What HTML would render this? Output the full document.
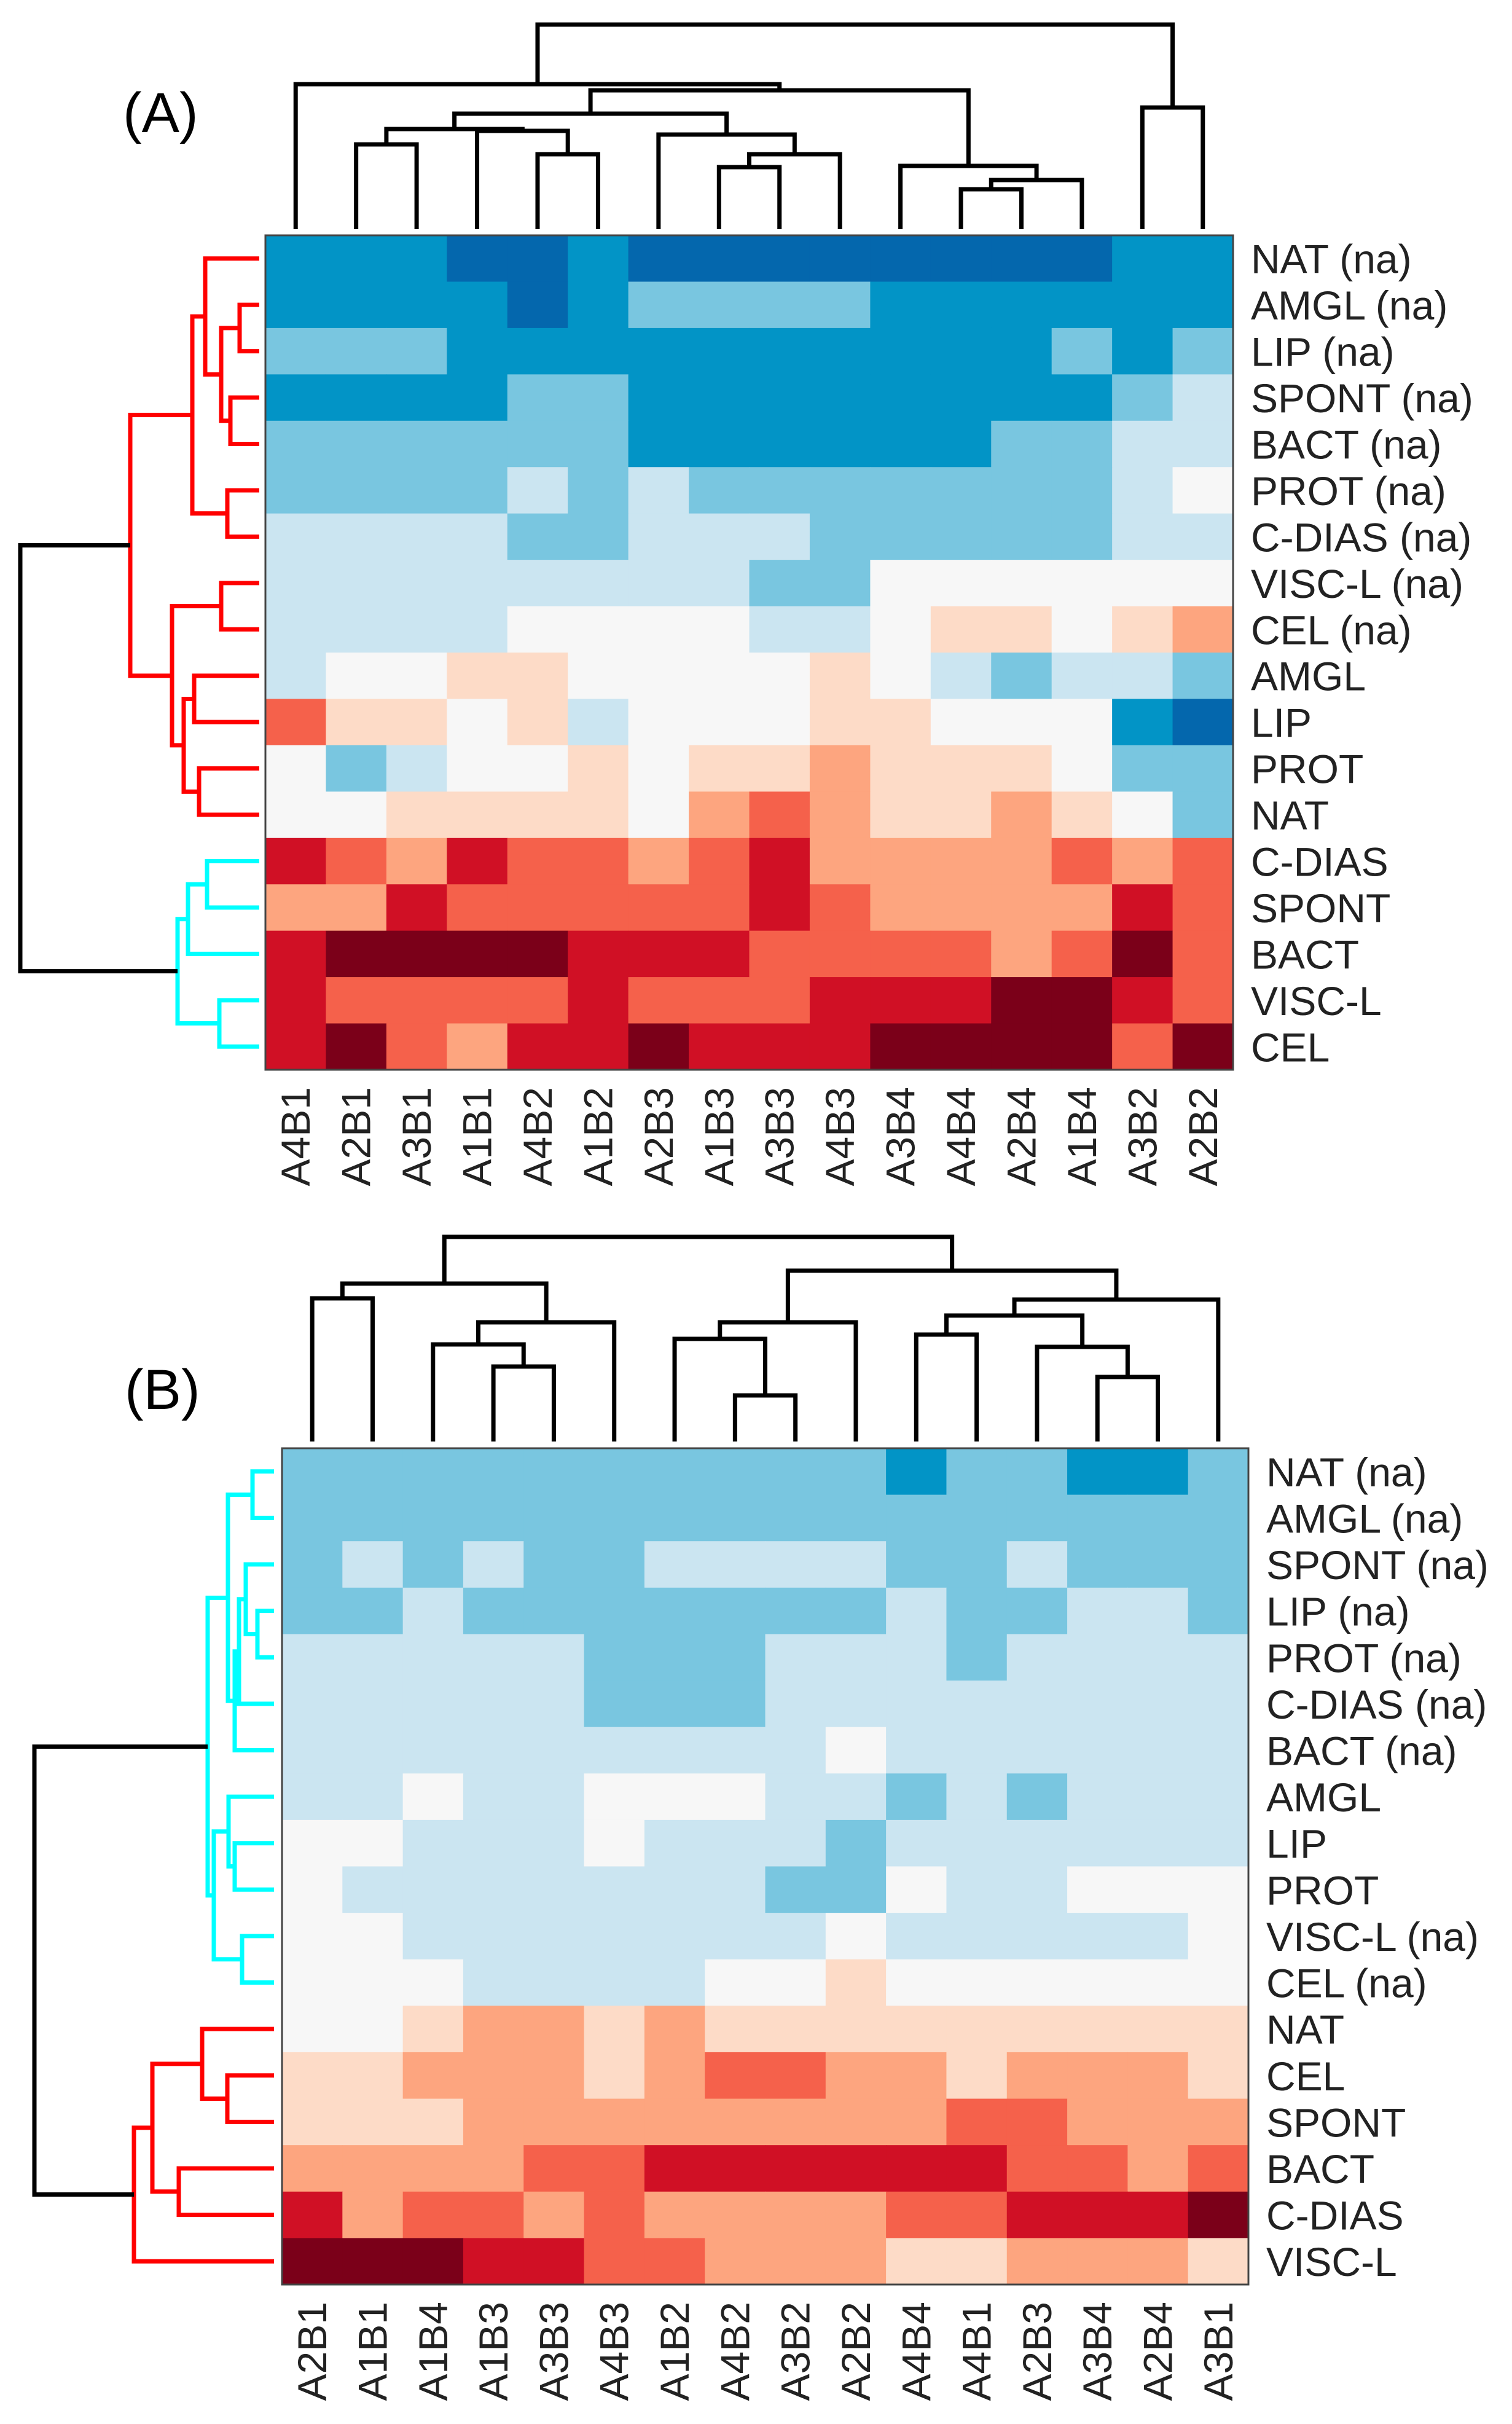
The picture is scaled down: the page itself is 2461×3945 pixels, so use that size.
<!DOCTYPE html>
<html><head><meta charset="utf-8"><style>
html,body{margin:0;padding:0;background:#fff;}
svg{display:block;}
text{font-family:"Liberation Sans",Arial,sans-serif;fill:#222;}
</style></head>
<body>
<svg id="fig" width="2461" height="3945" viewBox="0 0 2461 3945" xmlns="http://www.w3.org/2000/svg"></svg>
<script>
// ---------- DATA ----------
const levelColors = {a:'#0467ad',b:'#0294c6',c:'#79c6e0',d:'#cbe5f1',e:'#f7f7f7',f:'#fddbc7',g:'#fda57f',h:'#f5614b',i:'#d01025',j:'#7b0019'};

const colsA = ['A4B1','A2B1','A3B1','A1B1','A4B2','A1B2','A2B3','A1B3','A3B3','A4B3','A3B4','A4B4','A2B4','A1B4','A3B2','A2B2'];
const rowsA = ['NAT (na)','AMGL (na)','LIP (na)','SPONT (na)','BACT (na)','PROT (na)','C-DIAS (na)','VISC-L (na)','CEL (na)','AMGL','LIP','PROT','NAT','C-DIAS','SPONT','BACT','VISC-L','CEL'];
const cellsA = [
'bbbaabaaaaaaaabb',
'bbbbabccccbbbbbb',
'cccbbbbbbbbbbcbc',
'bbbbccbbbbbbbbcd',
'ccccccbbbbbbccdd',
'ccccdcdcccccccde',
'ddddccdddcccccdd',
'ddddddddcceeeeee',
'ddddeeeeddeffefg',
'deeffeeeefedcddc',
'hffefdeeeffeeeba',
'ecdeefeffgfffecc',
'eeffffeghgffgfec',
'ihgihhghigggghgh',
'ggihhhhhihggggih',
'ijjjjiiihhhhghjh',
'ihhhhihhhiiijjih',
'ijhgiijiiijjjjhj'
];
const dendTopA = [[1,2,138],[4,5,122],[3,17,160],[16,18,163],[7,8,101],[20,9,122],[6,21,154],[19,22,188],[11,12,65],[24,13,80],[10,25,103],[23,26,226],[0,27,236],[14,15,198],[28,29,333]];
const dendLeftA = [[1,2,32],[3,4,47],[18,19,62],[0,20,88],[5,6,52],[21,22,109],[7,8,62],[9,10,106],[11,12,98],[25,26,123],[24,27,142],[23,28,210],[13,14,85],[30,15,116],[16,17,65],[31,32,133],[29,33,389]];
const leftClusterA = [0,0,0,0,0,0,0,0,0,0,0,0,0,1,1,1,1,1];

const colsB = ['A2B1','A1B1','A1B4','A1B3','A3B3','A4B3','A1B2','A4B2','A3B2','A2B2','A4B4','A4B1','A2B3','A3B4','A2B4','A3B1'];
const rowsB = ['NAT (na)','AMGL (na)','SPONT (na)','LIP (na)','PROT (na)','C-DIAS (na)','BACT (na)','AMGL','LIP','PROT','VISC-L (na)','CEL (na)','NAT','CEL','SPONT','BACT','C-DIAS','VISC-L'];
const cellsB = [
'ccccccccccbccbbc',
'cccccccccccccccc',
'cdcdccddddccdccc',
'ccdcccccccdccddc',
'dddddcccdddcdddd',
'dddddcccdddddddd',
'dddddddddedddddd',
'ddeddeeeddcdcddd',
'eedddedddcdddddd',
'edddddddcceddeee',
'eedddddddeddddde',
'eeeddddeefeeeeee',
'eefggfgfffffffff',
'ffgggfghhggfgggf',
'fffgggggggghhggg',
'gggghhiiiiiihhgh',
'ighhghgggghhiiij',
'jjjiihhgggffgggf'
];
const dendTopB = [[0,1,233],[3,4,122],[2,17,158],[18,5,194],[16,19,257],[7,8,75],[6,21,167],[22,9,194],[10,11,174],[13,14,105],[12,25,154],[24,26,205],[27,15,231],[23,28,278],[20,29,333]];
const dendLeftB = [[0,1,35],[3,4,27],[2,19,46],[20,5,57],[21,6,64],[18,22,75],[8,9,64],[7,24,74],[10,11,52],[25,26,98],[23,27,108],[13,14,76],[12,29,117],[15,16,155],[30,31,198],[32,17,228],[28,33,390]];
const leftClusterB = [1,1,1,1,1,1,1,1,1,1,1,1,0,0,0,0,0,0];

// ---------- DRAW ----------
const NS='http://www.w3.org/2000/svg';
const svg=document.getElementById('fig');
function mk(tag,attrs,parent){const e=document.createElementNS(NS,tag);for(const k in attrs)e.setAttribute(k,attrs[k]);(parent||svg).appendChild(e);return e;}

function drawPanel(p){
  const g=mk('g',{});
  
  
  const nC=p.cols.length,nR=p.rows.length;
  const cw=(p.x1-p.x0)/nC, ch=(p.y1-p.y0)/nR;
  const xCol=i=>p.x0+cw*(i+0.5), yRow=i=>p.y0+ch*(i+0.5);
  const hm=mk('g',{},g);
  
  
  for(let r=0;r<nR;r++)for(let c=0;c<nC;c++){
    const rect=mk('rect',{x:(p.x0+cw*c).toFixed(2),y:(p.y0+ch*r).toFixed(2),width:(cw+0.6).toFixed(2),height:(ch+0.6).toFixed(2),fill:levelColors[p.cells[r][c]]},hm);
    
    
  }
  const border=mk('rect',{x:p.x0,y:p.y0,width:p.x1-p.x0,height:p.y1-p.y0,fill:'none',stroke:'#444',"stroke-width":3},g);
  
  
  p.rows.forEach((t,i)=>{
    const tx=mk('text',{x:p.x1+29,y:yRow(i)+24,'font-size':66},g);tx.textContent=t;
    
    
  });
  p.cols.forEach((t,i)=>{
    const X=xCol(i)+23,Y=p.y1+28;
    const tx=mk('text',{x:X,y:Y,'font-size':66,'text-anchor':'end',transform:`rotate(-90 ${X} ${Y})`},g);tx.textContent=t;
    
    
  });
  const posT=[],hT=[];
  for(let i=0;i<nC;i++){posT.push(xCol(i));hT.push(0);}
  p.dTop.forEach(m=>{
    const [a,b,h]=m;
    const yb=p.topBase;
    const d=`M${posT[a]},${yb-hT[a]} V${yb-h} H${posT[b]} V${yb-hT[b]}`;
    const path=mk('path',{d:d,fill:'none',stroke:'#000','stroke-width':7},g);
    
    
    posT.push((posT[a]+posT[b])/2);hT.push(h);
  });
  const posL=[],hL=[],cl=[];
  for(let i=0;i<nR;i++){posL.push(yRow(i));hL.push(0);cl.push(p.cluster[i]);}
  const n0=p.dLeft.length-1;
  p.dLeft.forEach((m,k)=>{
    const [a,b,h]=m;
    const xb=p.leftBase;
    let col;
    if(k===n0) col='#000'; else col=(cl[a]===1?p.c1:p.c0);
    const d=`M${xb-hL[a]},${posL[a]} H${xb-h} V${posL[b]} H${xb-hL[b]}`;
    const path=mk('path',{d:d,fill:'none',stroke:col,'stroke-width':7},g);
    
    
    posL.push((posL[a]+posL[b])/2);hL.push(h);cl.push(cl[a]);
  });
  const tg=mk('text',{x:p.tagX,y:p.tagY,'font-size':92,style:'fill:#000'},g);tg.textContent=p.tag;
  
  
}

drawPanel({name:'panel-a',cols:colsA,rows:rowsA,cells:cellsA,dTop:dendTopA,dLeft:dendLeftA,cluster:leftClusterA,
  x0:432,x1:2007,y0:383,y1:1741,topBase:373,leftBase:422,c0:'#ff0000',c1:'#00ffff',tag:'(A)',tagX:200,tagY:215});
drawPanel({name:'panel-b',cols:colsB,rows:rowsB,cells:cellsB,dTop:dendTopB,dLeft:dendLeftB,cluster:leftClusterB,
  x0:459,x1:2032,y0:2357,y1:3718,topBase:2346,leftBase:446,c0:'#ff0000',c1:'#00ffff',tag:'(B)',tagX:203,tagY:2293});
</script>
</body></html>
